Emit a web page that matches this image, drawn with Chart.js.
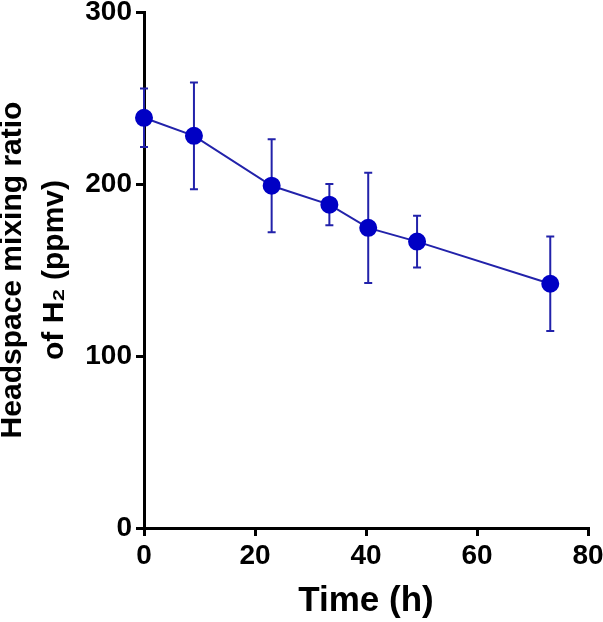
<!DOCTYPE html>
<html>
<head>
<meta charset="utf-8">
<script src="https://cdn.jsdelivr.net/npm/chart.js@4"></script>
<style>
  html, body { margin: 0; padding: 0; background: #fff; }
  #wrap { width: 603px; height: 622px; }
</style>
</head>
<body>
<div id="wrap"><canvas id="h2-chart"></canvas></div>
<script>
// time (h) and headspace H2 (ppmv)
const timeHours = [0, 9, 23, 33.4, 40.4, 49.2, 73.2];
const meanPpmv = [238.5, 228, 199, 188, 174.5, 166.5, 142];
const sdPpmv = [17, 31, 27, 12, 32, 15, 27.5];

const xTicks = [0, 20, 40, 60, 80];
const yTicks = [0, 100, 200, 300];

const FONT = "'Liberation Sans', Arial, sans-serif";
const MARK = "#0000c4";
const LINE = "#2222aa";

const errorBars = {
  id: "errorBars",
  beforeDatasetsDraw(chart) {
    const { ctx, scales } = chart;
    ctx.save();
    ctx.strokeStyle = LINE;
    ctx.lineWidth = 2;
    timeHours.forEach((t, i) => {
      const x = scales.x.getPixelForValue(t);
      const yTop = scales.y.getPixelForValue(meanPpmv[i] + sdPpmv[i]);
      const yBot = scales.y.getPixelForValue(meanPpmv[i] - sdPpmv[i]);
      ctx.beginPath();
      ctx.moveTo(x, yTop);
      ctx.lineTo(x, yBot);
      ctx.moveTo(x - 4, yTop);
      ctx.lineTo(x + 4, yTop);
      ctx.moveTo(x - 4, yBot);
      ctx.lineTo(x + 4, yBot);
      ctx.stroke();
    });
    ctx.restore();
  },
};

const axisGrid = {
  drawOnChartArea: false,
  drawTicks: true,
  tickLength: 8,
  lineWidth: 3,
  color: "#000",
};

new Chart(document.getElementById("h2-chart"), {
  type: "line",
  data: {
    datasets: [
      {
        data: timeHours.map((t, i) => ({ x: t, y: meanPpmv[i] })),
        borderColor: LINE,
        borderWidth: 2,
        backgroundColor: MARK,
        pointBackgroundColor: MARK,
        pointBorderColor: MARK,
        pointRadius: 8,
        tension: 0,
        clip: false,
      },
    ],
  },
  options: {
    responsive: true,
    maintainAspectRatio: false,
    animation: false,
    layout: { padding: { top: 12, right: 15, left: 0, bottom: 0 } },
    plugins: { legend: { display: false }, tooltip: { enabled: false } },
    scales: {
      x: {
        type: "linear",
        min: 0,
        max: 80,
        afterBuildTicks: (s) => { s.ticks = xTicks.map((v) => ({ value: v })); },
        afterFit: (s) => { s.height = 94; s.paddingLeft = 0; s.paddingRight = 0; },
        grid: axisGrid,
        border: { display: true, width: 3, color: "#000" },
        ticks: { color: "#000", padding: 3, maxRotation: 0, autoSkip: false, font: { family: FONT, size: 28, weight: "bold" } },
        title: {
          display: true,
          text: "Time (h)",
          color: "#000",
          padding: { top: 3, bottom: 0 },
          font: { family: FONT, size: 35, weight: "bold", lineHeight: 1.2 },
        },
      },
      y: {
        type: "linear",
        min: 0,
        max: 300,
        afterBuildTicks: (s) => { s.ticks = yTicks.map((v) => ({ value: v })); },
        afterFit: (s) => { s.width = 144; s.paddingTop = 0; s.paddingBottom = 0; },
        grid: axisGrid,
        border: { display: true, width: 3, color: "#000" },
        ticks: { color: "#000", padding: 4, font: { family: FONT, size: 28, weight: "bold" } },
        title: {
          display: true,
          text: ["Headspace mixing ratio", "of H\u2082 (ppmv)"],
          color: "#000",
          padding: { top: -8, bottom: 0 },
          font: { family: FONT, size: 30, weight: "bold", lineHeight: 1.4 },
        },
      },
    },
  },
  plugins: [errorBars],
});
</script>
</body>
</html>
